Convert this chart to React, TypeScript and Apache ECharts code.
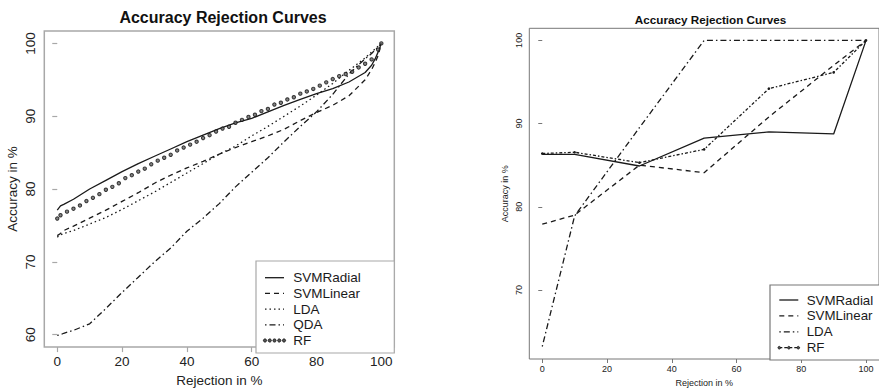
import React, { useEffect, useRef } from "react";
import * as echarts from "echarts";

// ---------- Left panel data ----------
const leftX = [0, 1, 2, 5, 10, 15, 20, 25, 30, 35, 40, 45, 50, 55, 60, 65, 70, 75, 80, 85, 90, 95, 97, 98, 99, 100];
const leftSVMRadial = [77.1, 77.7, 77.9, 78.6, 80.0, 81.2, 82.4, 83.5, 84.5, 85.5, 86.5, 87.4, 88.3, 89.1, 89.7, 90.6, 91.5, 92.3, 93.1, 93.8, 94.7, 96.0, 97.0, 97.8, 98.8, 100];
const leftSVMLinear = [73.6, 73.9, 74.3, 74.9, 76.0, 77.1, 78.3, 79.5, 80.8, 81.9, 82.9, 83.8, 84.8, 85.7, 86.5, 87.3, 88.2, 89.4, 90.5, 91.5, 92.8, 95.0, 96.4, 97.3, 98.3, 100];
const leftLDA = [73.4, 73.7, 73.9, 74.3, 75.2, 76.1, 77.2, 78.4, 79.6, 80.9, 82.2, 83.5, 84.8, 85.9, 87.3, 88.6, 90.0, 91.4, 92.9, 94.5, 96.3, 98.0, 98.8, 99.2, 99.6, 100];
const leftQDA = [59.9, 60.0, 60.2, 60.6, 61.5, 63.6, 65.8, 67.9, 70.0, 71.9, 74.2, 76.0, 78.0, 80.3, 82.3, 84.3, 86.5, 88.6, 90.6, 93.0, 95.8, 97.9, 98.6, 99.1, 99.5, 100];
const leftRFX = [0, 1, 3, 5, 7, 9, 11, 13, 15, 17, 19, 21, 23, 25, 27, 29, 31, 33, 35, 37, 39, 41, 43, 45, 47, 49,
  51, 53, 55, 57, 59, 61, 63, 65, 67, 69, 71, 73, 75, 77, 79, 81, 83, 85, 87, 89, 91, 93, 95, 97, 99, 100];
const leftRF = [75.95, 76.4, 76.9, 77.3, 77.75, 78.35, 78.8, 79.3, 79.9, 80.3, 80.8, 81.5, 81.9, 82.4, 82.8, 83.4, 83.9, 84.3, 84.7, 85.3, 85.7, 86.1, 86.5, 87.0, 87.4, 87.9,
  88.3, 88.55, 89.1, 89.5, 89.9, 90.2, 90.7, 91.0, 91.6, 91.85, 92.3, 92.6, 93.1, 93.4, 93.75, 94.2, 94.65, 95.1, 95.5, 95.8, 96.1, 96.7, 97.2, 97.8, 99.15, 100];

// ---------- Right panel data ----------
const rightX = [0, 10, 30, 50, 70, 90, 100];
const rightSVMRadial = [86.3, 86.3, 84.9, 88.25, 89.0, 88.75, 100];
const rightSVMLinear = [77.9, 79.0, 85.0, 84.1, 90.8, 97.0, 100];
const rightLDA = [63.2, 78.9, 89.5, 100, 100, 100, 100];
const rightRF = [86.4, 86.55, 85.3, 86.9, 94.2, 96.15, 100];

// ---------- Ticks and labels ----------
const xTicks = [0, 20, 40, 60, 80, 100];
const leftYTicks = [60, 70, 80, 90, 100];
const rightYTicks = [70, 80, 90, 100];
const leftLegend = ["SVMRadial", "SVMLinear", "LDA", "QDA", "RF"];
const rightLegend = ["SVMRadial", "SVMLinear", "LDA", "RF"];
const titleText = "Accuracy Rejection Curves";
const xName = "Rejection in %";
const yName = "Accuracy in %";

const FONT = "'Liberation Sans', Arial, sans-serif";
const INK = "#1a1a1a";

const pairs = (xs: number[], ys: number[]) => xs.map((x, i) => [x, ys[i]]);

const DASH = [5, 4];
const DOT = [1.5, 3];
const DOTDASH = [1.5, 3, 6, 3];

function legendGraphics(
  names: string[],
  styles: { dash: number[] | null; dots: number }[],
  box: { x: number; y: number; w: number; h: number; stroke: string },
  first: number,
  step: number,
  x1: number,
  x2: number,
  tx: number,
  fontSize: number
) {
  const els: any[] = [
    {
      type: "rect",
      shape: { x: box.x, y: box.y, width: box.w, height: box.h },
      style: { fill: "#fff", stroke: box.stroke, lineWidth: 1.2 },
      z: 100,
    },
  ];
  names.forEach((n, i) => {
    const y = first + i * step;
    const s = styles[i];
    if (s.dash !== null) {
      els.push({
        type: "line",
        shape: { x1, y1: y, x2, y2: y },
        style: { stroke: INK, lineWidth: 1.3, lineDash: s.dash.length ? s.dash : undefined },
        z: 101,
      });
    }
    if (s.dots > 0) {
      for (let k = 0; k < s.dots; k++) {
        const cx = x1 + ((x2 - x1) * k) / (s.dots - 1);
        els.push({
          type: "circle",
          shape: { cx, cy: y, r: s.dash === null ? 1.6 : 1.3 },
          style: { fill: "#555", stroke: INK, lineWidth: 0.9 },
          z: 102,
        });
      }
    }
    els.push({
      type: "text",
      x: tx,
      y,
      style: { text: n, fontSize, fontFamily: FONT, fill: INK, verticalAlign: "middle", align: "left" },
      z: 103,
    });
  });
  return els;
}

export default function App() {
  const ref = useRef<HTMLDivElement>(null);
  useEffect(() => {
    if (!ref.current) return;
    const chart = echarts.init(ref.current, undefined, { renderer: "svg" });

    const lineSeries = (name: string, xs: number[], ys: number[], dash: any, idx: number, width = 1.3) => ({
      name,
      type: "line",
      xAxisIndex: idx,
      yAxisIndex: idx,
      data: pairs(xs, ys),
      symbol: "none",
      lineStyle: { color: INK, width, type: dash },
      z: 3,
    });

    const option: any = {
      animation: false,
      backgroundColor: "#fff",
      textStyle: { fontFamily: FONT },
      title: [
        {
          text: titleText,
          left: 218,
          top: 4,
          textAlign: "center",
          textStyle: { fontSize: 16, fontWeight: "bold", color: "#111", fontFamily: FONT },
        },
        {
          text: titleText,
          left: 705.5,
          top: 8,
          textAlign: "center",
          textStyle: { fontSize: 11.7, fontWeight: "bold", color: "#111", fontFamily: FONT },
        },
      ],
      grid: [
        { left: 44.3, top: 31, width: 350, height: 322, show: true, borderColor: "#a8a8a8", borderWidth: 1.5, backgroundColor: "transparent" },
        { left: 529.3, top: 28.3, width: 354, height: 331.7, show: true, borderColor: "#777", borderWidth: 1, backgroundColor: "transparent" },
      ],
      xAxis: [
        {
          type: "value", gridIndex: 0, min: -4, max: 104,
          axisLine: { show: false },
          splitLine: { show: false },
          axisTick: { show: true, customValues: xTicks, length: 5, lineStyle: { color: "#a8a8a8", width: 1.2 } },
          axisLabel: { customValues: xTicks, fontSize: 13.5, margin: 7, color: "#222", fontFamily: FONT },
          name: xName, nameLocation: "middle", nameGap: 23,
          nameTextStyle: { fontSize: 13.5, color: "#222", fontFamily: FONT },
        },
        {
          type: "value", gridIndex: 1, min: -4, max: 104,
          axisLine: { show: false },
          splitLine: { show: false },
          axisTick: { show: true, customValues: xTicks, length: 4, lineStyle: { color: "#777" } },
          axisLabel: { customValues: xTicks, fontSize: 9, margin: 5, color: "#222", fontFamily: FONT },
          name: xName, nameLocation: "middle", nameGap: 19,
          nameTextStyle: { fontSize: 9, color: "#222", fontFamily: FONT },
        },
      ],
      yAxis: [
        {
          type: "value", gridIndex: 0, min: 58.3, max: 101.7,
          axisLine: { show: false },
          splitLine: { show: false },
          axisTick: { show: true, customValues: leftYTicks, length: 5, lineStyle: { color: "#a8a8a8", width: 1.2 } },
          axisLabel: { customValues: leftYTicks, fontSize: 13.5, margin: 7, rotate: 90, color: "#222", fontFamily: FONT },
          name: yName, nameLocation: "middle", nameGap: 25, nameRotate: 90,
          nameTextStyle: { fontSize: 13.5, color: "#222", fontFamily: FONT },
        },
        {
          type: "value", gridIndex: 1, min: 61.7, max: 101.45,
          axisLine: { show: false },
          splitLine: { show: false },
          axisTick: { show: true, customValues: rightYTicks, length: 4, lineStyle: { color: "#777" } },
          axisLabel: { customValues: rightYTicks, fontSize: 9, margin: 6, rotate: 90, color: "#222", fontFamily: FONT },
          name: yName, nameLocation: "middle", nameGap: 20, nameRotate: 90,
          nameTextStyle: { fontSize: 9, color: "#222", fontFamily: FONT },
        },
      ],
      series: [
        lineSeries("SVMRadial", leftX, leftSVMRadial, "solid", 0),
        lineSeries("SVMLinear", leftX, leftSVMLinear, DASH, 0),
        lineSeries("LDA", leftX, leftLDA, DOT, 0),
        lineSeries("QDA", leftX, leftQDA, DOTDASH, 0),
        {
          name: "RF",
          type: "scatter",
          xAxisIndex: 0,
          yAxisIndex: 0,
          data: pairs(leftRFX, leftRF),
          symbol: "circle",
          symbolSize: 3.4,
          itemStyle: { color: "#666", borderColor: "#111", borderWidth: 1 },
          z: 4,
        },
        lineSeries("SVMRadial", rightX, rightSVMRadial, "solid", 1),
        lineSeries("SVMLinear", rightX, rightSVMLinear, DASH, 1),
        lineSeries("LDA", rightX, rightLDA, DOTDASH, 1),
        {
          name: "RF",
          type: "line",
          xAxisIndex: 1,
          yAxisIndex: 1,
          data: pairs(rightX, rightRF),
          symbol: "circle",
          symbolSize: 2.6,
          showSymbol: true,
          itemStyle: { color: INK },
          lineStyle: { color: INK, width: 1.3, type: [3, 2, 1.5, 2] },
          z: 3,
        },
      ],
      graphic: [
        ...legendGraphics(
          leftLegend,
          [
            { dash: [], dots: 0 },
            { dash: DASH, dots: 0 },
            { dash: DOT, dots: 0 },
            { dash: DOTDASH, dots: 0 },
            { dash: null, dots: 5 },
          ],
          { x: 256, y: 261, w: 138.3, h: 92, stroke: "#a8a8a8" },
          277.7, 15.7, 265, 284, 293.3, 13.5
        ),
        ...legendGraphics(
          rightLegend,
          [
            { dash: [], dots: 0 },
            { dash: DASH, dots: 0 },
            { dash: DOTDASH, dots: 0 },
            { dash: [3, 2], dots: 3 },
          ],
          { x: 770, y: 285, w: 120, h: 75, stroke: "#777" },
          300, 15.9, 779.3, 798.3, 806.7, 13.3
        ),
      ],
    };
    chart.setOption(option);
    return () => chart.dispose();
  }, []);
  return (
    <div
      ref={ref}
      style={{ position: "absolute", left: 0, top: 0, width: 879, height: 392, background: "#fff" }}
    />
  );
}
